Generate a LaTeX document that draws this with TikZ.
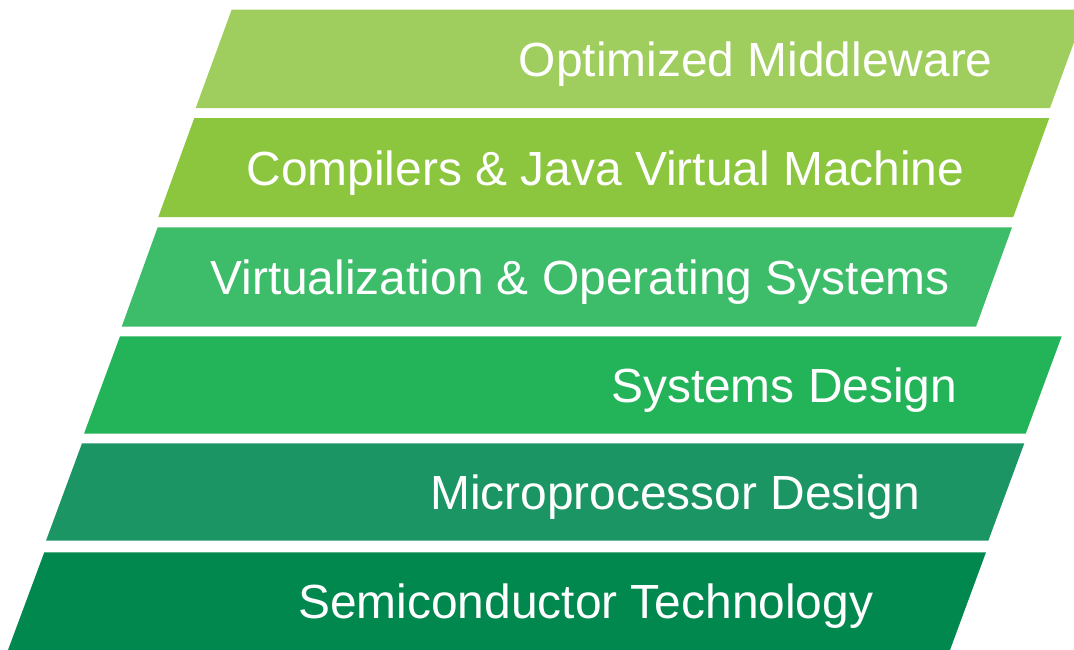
\documentclass[tikz,border=0pt]{standalone}
\usepackage{fontspec}
\setmainfont{Liberation Sans}
\definecolor{cA}{RGB}{160,206,94}
\definecolor{cB}{RGB}{140,198,63}
\definecolor{cC}{RGB}{61,188,106}
\definecolor{cD}{RGB}{35,179,89}
\definecolor{cE}{RGB}{27,149,99}
\definecolor{cF}{RGB}{0,136,78}
\tikzset{
  layerlabel/.style={text=white, anchor=base, inner sep=0pt, font=\fontsize{47.9}{50}\selectfont},
}
\begin{document}
\begin{tikzpicture}[x=1pt,y=-1pt]
\useasboundingbox (0,0) rectangle (1074,649);
\clip (0,0) rectangle (1074,649);
\fill[cA] (195.7,108) -- (231.7,9.5) -- (1086,9.5) -- (1050,108) -- cycle;
\fill[cB] (158.3,217) -- (194.3,118) -- (1049.3,118) -- (1013.3,217) -- cycle;
\fill[cC] (121.7,326.7) -- (157.7,227.3) -- (1012,227.3) -- (976,326.7) -- cycle;
\fill[cD] (84,433.7) -- (120,336.3) -- (1061.7,336.3) -- (1025.7,433.7) -- cycle;
\fill[cE] (46,540.7) -- (82,443.3) -- (1024.3,443.3) -- (988.3,540.7) -- cycle;
\fill[cF] (8,650) -- (44.3,552.3) -- (986,552.3) -- (950,650) -- cycle;
\node[layerlabel] (l1) at (755.8,76.6) {Optimized Middleware};
\node[layerlabel] (l2) at (605.4,185.3) {Compilers \& Java Virtual Machine};
\node[layerlabel] (l3) at (580,294.8) {Virtualization \& Operating Systems};
\node[layerlabel] (l4) at (784.2,402.8) {Systems Design};
\node[layerlabel] (l5) at (675,509.8) {Microprocessor Design};
\node[layerlabel] (l6) at (585.7,618.4) {Semiconductor Technology};
\end{tikzpicture}
\end{document}
